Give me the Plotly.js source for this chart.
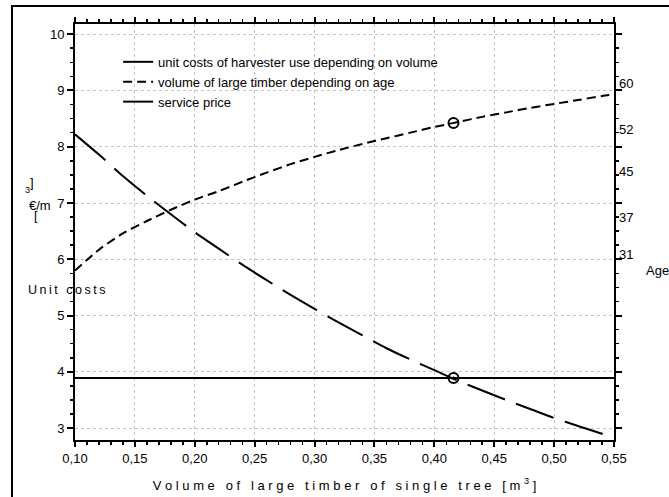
<!DOCTYPE html>
<html><head><meta charset="utf-8">
<script src="https://cdn.plot.ly/plotly-3.0.1.min.js"></script>
<style>html,body{margin:0;padding:0;background:#fff}#c{width:669px;height:497px}</style>
</head><body><div id="c"></div>
<script>
// Data
const volX = [0.10,0.12,0.14,0.16,0.18,0.20,0.22,0.24,0.26,0.28,0.30,0.32,0.34,0.36,0.38,0.40,0.42,0.44,0.46,0.48,0.50,0.52,0.54,0.55];
const unitCosts = [8.22,7.86,7.48,7.13,6.80,6.48,6.19,5.90,5.63,5.37,5.12,4.88,4.65,4.42,4.22,4.03,3.84,3.67,3.50,3.34,3.18,3.04,2.90,2.82];
const largeTimber = [5.80,6.17,6.46,6.68,6.88,7.06,7.21,7.38,7.54,7.69,7.82,7.94,8.05,8.15,8.25,8.35,8.44,8.53,8.61,8.69,8.76,8.83,8.90,8.93];
const serviceX = [0.10,0.55];
const servicePrice = [3.89,3.89];
const optX = [0.416];
const optAgeY = [8.42];
const optCostY = [3.89];
const ageTickVals = [9.13,8.30,7.56,6.74,6.09];
const ageTickText = ['60','52','45','37','31'];
const xTickVals = [0.10,0.15,0.20,0.25,0.30,0.35,0.40,0.45,0.50,0.55];
const xTickText = ['0,10','0,15','0,20','0,25','0,30','0,35','0,40','0,45','0,50','0,55'];

const traces = [
  {x: volX, y: unitCosts, mode:'lines', name:'unit costs of harvester use depending on volume',
   line:{color:'#000', width:2, dash:'40px,12px', shape:'spline', smoothing:0.8}},
  {x: volX, y: largeTimber, mode:'lines', name:'volume of large timber depending on age', yaxis:'y2',
   line:{color:'#000', width:2, dash:'9px,5px', shape:'spline', smoothing:0.8}},
  {x: serviceX, y: servicePrice, mode:'lines', name:'service price',
   line:{color:'#000', width:2}},
  {x: optX, y: optAgeY, mode:'markers', showlegend:false,
   marker:{symbol:'circle-open', size:10, color:'#000', line:{width:2}}},
  {x: optX, y: optCostY, mode:'markers', showlegend:false,
   marker:{symbol:'circle-open-dot', size:10, color:'#000', line:{width:2}}}
];

const yr = [2.79, 10.18];
const layout = {
  width:669, height:497,
  margin:{l:75, r:55, t:24, b:57},
  paper_bgcolor:'#fff', plot_bgcolor:'#fff',
  font:{family:'Arial, Liberation Sans, sans-serif', size:13, color:'#000'},
  showlegend:true,
  legend:{x:0.08, y:0.945, xanchor:'left', yanchor:'top', bgcolor:'rgba(0,0,0,0)',
          font:{size:13}, tracegroupgap:0},
  xaxis:{range:[0.10,0.55], tickvals:xTickVals, ticktext:xTickText,
         showline:true, linecolor:'#000', linewidth:2, mirror:'ticks',
         ticks:'outside', ticklen:5, tickwidth:2, tickcolor:'#000',
         minor:{dtick:0.01, ticks:'outside', ticklen:3, tickwidth:1.5, tickcolor:'#000', showgrid:false},
         showgrid:true, gridcolor:'#c4c4c4', griddash:'dot', gridwidth:1, zeroline:false,
         tickfont:{size:13},
         title:{text:'V o l u m e   o f   l a r g e   t i m b e r   o f   s i n g l e   t r e e   [ m <sup>3</sup> ]', font:{size:13}, standoff:16}},
  yaxis:{range:yr, dtick:1, tick0:0,
         showline:true, linecolor:'#000', linewidth:2, mirror:'ticks',
         ticks:'outside', ticklen:6, tickwidth:2, tickcolor:'#000',
         minor:{dtick:0.25, ticks:'outside', ticklen:3, tickwidth:1.5, tickcolor:'#000', showgrid:false},
         showgrid:true, gridcolor:'#c4c4c4', griddash:'dot', gridwidth:1, zeroline:false,
         tickfont:{size:13}},
  yaxis2:{range:yr, overlaying:'y', side:'right', tickvals:ageTickVals, ticktext:ageTickText,
          ticks:'', showgrid:false, zeroline:false, showline:false, tickfont:{size:13}, ticklabelstandoff:4},
  shapes:[
    {type:'rect', xref:'paper', yref:'paper', x0:-0.1169, x1:1.2, y0:-0.3, y1:1.0433,
     line:{color:'#000', width:2}, fillcolor:'rgba(0,0,0,0)'}
  ],
  annotations:[
    {text:'U\u2009n\u2009i\u2009t\u2009 \u2009c\u2009o\u2009s\u2009t\u2009s', xref:'paper', yref:'paper', x:(26-75)/539, y:(440-290)/416, xanchor:'left', yanchor:'middle', showarrow:false, font:{size:12.5}},
    {text:'\u20ac/m', xref:'paper', yref:'paper', x:(27-75)/539, y:(440-205)/416, xanchor:'left', yanchor:'middle', showarrow:false, font:{size:13}},
    {text:'3', xref:'paper', yref:'paper', x:(23-75)/539, y:(440-190)/416, xanchor:'left', yanchor:'middle', showarrow:false, font:{size:9}},
    {text:']', xref:'paper', yref:'paper', x:(28-75)/539, y:(440-182)/416, xanchor:'left', yanchor:'middle', showarrow:false, font:{size:13}},
    {text:'[', xref:'paper', yref:'paper', x:(32-75)/539, y:(440-215)/416, xanchor:'left', yanchor:'middle', showarrow:false, font:{size:13}},
    {text:'Age', xref:'paper', yref:'paper', x:(644-75)/539, y:(440-270)/416, xanchor:'left', yanchor:'middle', showarrow:false, font:{size:13}}
  ]
};
Plotly.newPlot('c', traces, layout, {displayModeBar:false, staticPlot:true});
</script></body></html>
